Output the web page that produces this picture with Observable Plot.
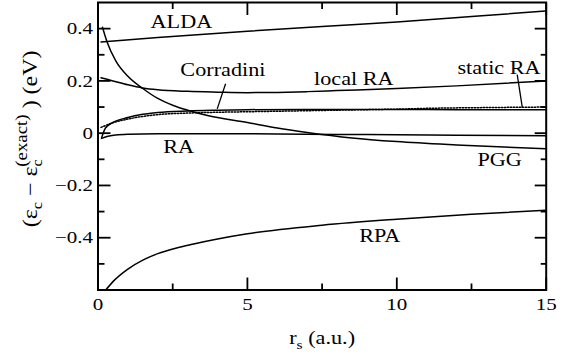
<!DOCTYPE html>
<html><head><meta charset="utf-8">
<script src="https://cdn.jsdelivr.net/npm/d3@7"></script>
<script src="https://cdn.jsdelivr.net/npm/@observablehq/plot@0.6"></script>
<style>body{margin:0;background:#fff}</style>
</head><body><div id="chart"></div>
<script>
// ---- data ----
const aldaRs = [0.1, 2, 5, 7.5, 10, 12.5, 15];
const aldaVal = [0.349, 0.366, 0.39, 0.408, 0.425, 0.446, 0.468];

const pggRs = [0.15, 0.3, 0.6, 1, 1.5, 2, 2.5, 3, 3.7, 5, 6, 7, 8.5, 10, 12, 15];
const pggVal = [0.405, 0.35, 0.276, 0.218, 0.171, 0.133, 0.107, 0.088, 0.067, 0.041, 0.02, 0.003, -0.018, -0.032, -0.045, -0.06];

const localRaRs = [0.1, 0.5, 1, 1.5, 2, 3, 4, 5, 6, 7, 8, 10, 12, 15];
const localRaVal = [0.212, 0.2, 0.185, 0.173, 0.166, 0.16, 0.157, 0.155, 0.156, 0.159, 0.163, 0.171, 0.181, 0.2];

const corradiniRs = [0.12, 0.25, 0.5, 1, 1.5, 2, 3, 4, 5, 7, 10, 12, 15];
const corradiniVal = [-0.018, 0.02, 0.041, 0.06, 0.072, 0.079, 0.085, 0.088, 0.09, 0.091, 0.091, 0.09, 0.09];

const staticRaRs = [0.1, 0.5, 1, 2, 3, 4, 5, 7, 9, 10, 11, 13, 15];
const staticRaVal = [0.022, 0.04, 0.054, 0.071, 0.077, 0.08, 0.082, 0.086, 0.09, 0.092, 0.095, 0.098, 0.1];

const raRs = [0.12, 0.3, 0.6, 1, 2, 4, 6, 8, 10, 12, 15];
const raVal = [-0.02, -0.013, -0.007, -0.004, -0.002, -0.002, -0.003, -0.005, -0.006, -0.008, -0.01];

const rpaRs = [0.26, 0.5, 1, 1.5, 2, 2.6, 3.2, 4, 5, 7.5, 10, 12.5, 15];
const rpaVal = [-0.6, -0.568, -0.52, -0.486, -0.461, -0.44, -0.424, -0.405, -0.385, -0.352, -0.329, -0.31, -0.295];

// curve labels
const labelText = ["ALDA", "Corradini", "local RA", "static RA", "RA", "PGG", "RPA"];
const labelRs = [2.79, 4.18, 8.56, 13.42, 2.7, 13.44, 9.43];
const labelVal = [0.425, 0.242, 0.206, 0.248, -0.054, -0.101, -0.394];

// pointer lines from labels to curves
const pointerRs1 = [4.27, 14.03];
const pointerVal1 = [0.189, 0.224];
const pointerRs2 = [3.99, 14.2];
const pointerVal2 = [0.093, 0.099];

// ticks
const xMajor = [0, 5, 10, 15];
const xMinor = [2.5, 7.5, 12.5];
const xTickLabels = ["0", "5", "10", "15"];
const yMajor = [-0.4, -0.2, 0, 0.2, 0.4];
const yMinor = [-0.5, -0.3, -0.1, 0.1, 0.3];
const yTickLabels = ["\u22120.4", "\u22120.2", "0", "0.2", "0.4"];

const xTitle = "r_s (a.u.)";
const yTitle = "(eps_c - eps_c^exact) (eV)";

// ---- build ----
const rows = (xs, ys) => xs.map((x, i) => ({rs: x, v: ys[i]}));
const labels = labelText.map((t, i) => ({t, rs: labelRs[i], v: labelVal[i]}));
const pointers = pointerRs1.map((x, i) => ({x1: x, y1: pointerVal1[i], x2: pointerRs2[i], y2: pointerVal2[i]}));
const xLab = new Map(xMajor.map((d, i) => [d, xTickLabels[i]]));
const yLab = new Map(yMajor.map((d, i) => [d, yTickLabels[i]]));

const lineOpts = {x: "rs", y: "v", stroke: "black", strokeWidth: 1.5, curve: "monotone-x", clip: true};
const tickOpts = {tickFormat: () => "", label: null, strokeWidth: 1.8, stroke: "black"};

const chart = Plot.plot({
  width: 574, height: 360,
  marginLeft: 97.5, marginRight: 28.3, marginTop: 2, marginBottom: 70.5,
  x: {domain: [0, 15], label: null},
  y: {domain: [-0.6, 0.5], label: null},
  style: {fontFamily: "'Liberation Serif', 'Times New Roman', serif", fontSize: "18px", color: "black", background: "white"},
  marks: [
    Plot.line(rows(aldaRs, aldaVal), lineOpts),
    Plot.line(rows(pggRs, pggVal), lineOpts),
    Plot.line(rows(localRaRs, localRaVal), lineOpts),
    Plot.line(rows(corradiniRs, corradiniVal), lineOpts),
    Plot.line(rows(staticRaRs, staticRaVal), {...lineOpts, strokeDasharray: "1.4,1.6"}),
    Plot.line(rows(raRs, raVal), lineOpts),
    Plot.line(rows(rpaRs, rpaVal), lineOpts),
    Plot.link(pointers, {x1: "x1", y1: "y1", x2: "x2", y2: "y2", stroke: "black", strokeWidth: 1.3}),
    Plot.text(labels, {x: "rs", y: "v", text: "t", fontSize: 18.5, lineAnchor: "middle", fill: "black"}),
    // inward ticks on all sides
    Plot.axisX(xMajor, {...tickOpts, anchor: "bottom", tickSize: -12}),
    Plot.axisX(xMinor, {...tickOpts, anchor: "bottom", tickSize: -6}),
    Plot.axisX(xMajor, {...tickOpts, anchor: "top", tickSize: -12}),
    Plot.axisX(xMinor, {...tickOpts, anchor: "top", tickSize: -6}),
    Plot.axisY(yMajor, {...tickOpts, anchor: "left", tickSize: -13}),
    Plot.axisY(yMinor, {...tickOpts, anchor: "left", tickSize: -7}),
    Plot.axisY(yMajor, {...tickOpts, anchor: "right", tickSize: -12}),
    Plot.axisY(yMinor, {...tickOpts, anchor: "right", tickSize: -6}),
    // tick labels
    Plot.axisX(xMajor, {anchor: "bottom", tickSize: 0, tickPadding: 8, tickFormat: d => xLab.get(d), label: null, fontSize: 17.5}),
    Plot.axisY(yMajor, {anchor: "left", tickSize: 0, tickPadding: 5, tickFormat: d => yLab.get(d), label: null, fontSize: 17.5}),
    // axis titles
    Plot.text([xTitle], {x: [7.5], text: d => d, frameAnchor: "bottom", lineAnchor: "bottom", dy: 53.5, fontSize: 18.5}),
    Plot.text([yTitle], {y: [-0.022], text: d => d, frameAnchor: "left", textAnchor: "middle", lineAnchor: "bottom", rotate: -90, dx: -61.5, fontSize: 19}),
    Plot.frame({stroke: "black", strokeWidth: 2})
  ]
});
document.getElementById("chart").appendChild(chart);

const svg = d3.select(chart);
svg.selectAll("text").each(function () {
  const el = d3.select(this);
  el.attr("font-family", "Liberation Serif");
  const txt = this.textContent;
  let isY = false;
  if (txt === xTitle) {
    el.text(null);
    el.append("tspan").text("r");
    el.append("tspan").attr("dy", 5).attr("font-size", 13).text("s");
    el.append("tspan").attr("dy", -5).text(" (a.u.)");
  } else if (txt === yTitle) {
    isY = true;
    el.text(null);
    el.append("tspan").text("(\u03b5");
    el.append("tspan").attr("dy", 5).attr("font-size", 13).text("c");
    el.append("tspan").attr("dy", -5).text(" \u2212 \u03b5");
    el.append("tspan").attr("dy", 5).attr("font-size", 13).text("c");
    el.append("tspan").attr("dx", -6).attr("dy", -14).attr("font-size", 15).text("(exact)");
    el.append("tspan").attr("dy", 9).text(" ) (eV)");
  }
  const t = this.getAttribute("transform");
  if (t) {
    el.attr("transform", t + (isY ? " scale(1.26,1.1)" : " scale(1.2,1)"));
  } else {
    const x = +(this.getAttribute("x") || 0);
    el.attr("x", null).attr("transform", `translate(${x},0) scale(1.2,1)`);
  }
});
</script>
</body></html>
